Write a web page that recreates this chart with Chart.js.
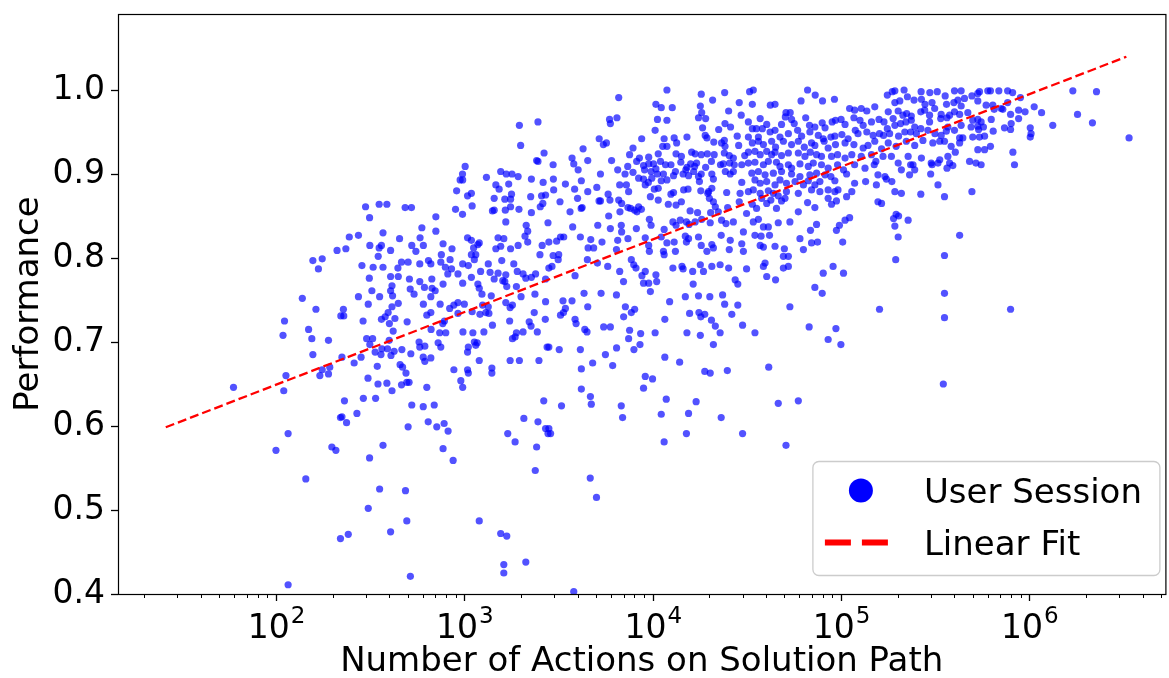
<!DOCTYPE html>
<html>
<head>
<meta charset="utf-8">
<title>Performance vs Number of Actions on Solution Path</title>
<script src="https://cdn.jsdelivr.net/npm/chart.js@4.4.0/dist/chart.umd.min.js"></script>
<style>
  html, body { margin: 0; padding: 0; background: #fff; }
  #wrap { width: 1169px; height: 678px; }
</style>
</head>
<body>
<div id="wrap"><canvas id="chart" width="1169" height="678"></canvas></div>
<script>
// user sessions: [number of actions on solution path, performance]
const sessionPoints = [
  // ~10^2 region
  [245,0.825],[211,0.809],[235,0.811],[157,0.797],[176,0.799],[168,0.787],[138,0.752],[163,0.739],[228,0.739],[221,0.731],
  [229,0.731],[111,0.725],[149,0.715],[109,0.708],[155,0.704],[190,0.702],[157,0.685],[224,0.682],[59.5,0.646],
  [113,0.660],[110,0.642],[171,0.660],[176,0.667],[190,0.662],[193,0.670],[231,0.630],[220,0.610],[224,0.611],[237,0.604],
  [116,0.591],[100,0.571],[198,0.575],[208,0.571],[144,0.537],[220,0.466],[242,0.471],[116,0.411],
  // 10^2 - 10^3, upper half
  [2460,0.962],[1960,0.958],[1990,0.934],[2650,0.925],[2420,0.916],[2460,0.915],[1010,0.909],[978,0.900],[950,0.893],[980,0.893],
  [1310,0.896],[1560,0.903],[1670,0.900],[1790,0.900],[1930,0.897],[2270,0.894],[2620,0.890],[1470,0.887],[1530,0.882],[1720,0.888],
  [910,0.880],[1040,0.874],[1090,0.877],[1780,0.876],[1640,0.870],[1760,0.870],[1440,0.871],[2250,0.873],[2570,0.874],[2700,0.875],
  [299,0.861],[353,0.864],[388,0.864],[485,0.860],[524,0.860],[314,0.848],[898,0.858],[978,0.852],[1100,0.862],[1410,0.856],
  [1440,0.857],[1650,0.857],[1760,0.861],[1950,0.858],[2270,0.854],[2530,0.861],[2610,0.865],[706,0.849],[1660,0.843],[2780,0.842],
  [2130,0.839],[2170,0.832],[595,0.836],[706,0.832],[370,0.830],[274,0.827],[453,0.823],[582,0.824],[1040,0.824],
  [1090,0.821],[1200,0.818],[1510,0.824],[1620,0.823],[2100,0.826],[2170,0.819],[315,0.815],[353,0.812],[363,0.815],[406,0.809],
  [526,0.815],[606,0.815],[553,0.808],[771,0.817],[860,0.811],[1120,0.812],[1180,0.816],[1470,0.811],[1560,0.814],[1760,0.811],
  [1930,0.815],[2520,0.804],[2590,0.815],[349,0.802],[286,0.791],[328,0.789],[370,0.789],[464,0.795],[503,0.795],[580,0.793],
  [645,0.797],[664,0.793],[755,0.804],[750,0.795],[840,0.798],[855,0.787],[793,0.789],[817,0.781],[980,0.793],[1050,0.791],
  [1090,0.804],[1130,0.798],[1150,0.804],[1340,0.793],[1580,0.797],[1830,0.793],[1910,0.784],[2050,0.781],[2120,0.776],[2270,0.777],
  [2390,0.781],[2700,0.775],[444,0.788],[313,0.776],[406,0.778],[446,0.778],[511,0.775],[672,0.775],[925,0.781],[1220,0.784],
  [1090,0.777],[1370,0.783],[1440,0.775],[1510,0.782],[1600,0.773],[1660,0.780],[323,0.761],[274,0.754],[355,0.754],[413,0.767],
  [406,0.761],[416,0.755],[516,0.763],[580,0.772],[614,0.765],[541,0.757],[674,0.764],[700,0.761],[664,0.754],[771,0.769],
  [980,0.770],[1180,0.769],[1200,0.764],[1240,0.757],[1390,0.755],[1640,0.772],[1680,0.766],[1890,0.766],[2000,0.754],[2370,0.757],
  [2700,0.748],[309,0.745],[446,0.746],[413,0.742],[394,0.735],[606,0.745],[744,0.745],[836,0.740],[880,0.744],[925,0.747],
  [1000,0.745],[1100,0.736],[1250,0.744],[1340,0.742],[1660,0.747],[1750,0.741],[1800,0.744],[2350,0.735],[290,0.725],[363,0.727],
  [380,0.730],[400,0.722],[428,0.728],[497,0.724],[632,0.732],[664,0.735],[768,0.722],[784,0.725],[925,0.734],[1210,0.733],
  [1300,0.735],[1350,0.734],[1740,0.725],[1410,0.720],[2210,0.724],[2260,0.719],[2690,0.727],[419,0.713],[666,0.715],[740,0.711],
  [797,0.711],[983,0.712],[1110,0.711],[1270,0.712],[1890,0.711],[2050,0.712],[2440,0.712],
  // 10^3 - 10^4, upper half
  [11900,1.000],[6600,0.991],[18100,0.995],[24100,0.997],[10400,0.983],[11100,0.979],[12700,0.979],[17900,0.981],[18200,0.973],[20800,0.988],
  [28800,0.985],[5900,0.965],[5960,0.960],[6460,0.967],[10600,0.965],[11900,0.964],[10300,0.952],[17500,0.967],[19100,0.966],[25300,0.975],
  [29500,0.970],[22400,0.953],[24200,0.960],[25900,0.956],[18400,0.955],[28100,0.945],[5200,0.942],[5470,0.935],[5680,0.937],[4270,0.930],
  [8740,0.942],[11500,0.942],[13000,0.943],[13400,0.937],[11300,0.933],[11900,0.933],[15200,0.944],[19000,0.946],[19400,0.943],[21100,0.938],
  [23200,0.937],[24000,0.940],[24200,0.933],[28600,0.934],[7860,0.931],[7540,0.923],[8500,0.919],[9520,0.920],[9520,0.912],[10700,0.924],
  [11000,0.915],[13300,0.924],[14200,0.921],[16100,0.926],[16800,0.924],[18100,0.923],[19500,0.924],[21200,0.923],[24000,0.925],[25500,0.922],
  [26800,0.919],[30800,0.922],[3730,0.919],[3810,0.912],[2960,0.911],[4520,0.916],[6050,0.916],[7370,0.909],[8220,0.915],[8940,0.910],
  [9050,0.905],[10100,0.912],[10400,0.906],[11700,0.911],[12500,0.911],[14100,0.914],[15200,0.908],[15900,0.912],[16700,0.909],[17100,0.913],
  [19100,0.908],[20500,0.915],[22900,0.911],[23700,0.912],[25600,0.913],[27100,0.911],[29700,0.911],[4020,0.905],[5280,0.900],[6520,0.905],
  [7130,0.900],[7860,0.902],[8420,0.895],[9800,0.903],[9890,0.895],[10600,0.900],[11400,0.900],[11100,0.892],[13200,0.903],[12900,0.898],
  [14500,0.900],[15000,0.905],[15500,0.898],[16500,0.903],[17500,0.897],[18100,0.900],[20600,0.900],[21000,0.894],[24300,0.903],[25800,0.900],
  [26800,0.903],[29700,0.890],[2970,0.894],[3440,0.888],[3850,0.882],[4180,0.892],[4520,0.879],[5050,0.884],[6680,0.887],[7250,0.887],
  [8940,0.894],[9480,0.890],[9130,0.887],[10200,0.882],[10700,0.883],[11900,0.893],[7450,0.879],[12900,0.878],[14600,0.881],[15400,0.882],
  [17700,0.891],[18000,0.880],[19800,0.879],[20600,0.883],[24700,0.878],[29100,0.877],[2980,0.881],[3220,0.867],
  [3990,0.871],[4220,0.860],[5190,0.868],[5280,0.868],[5800,0.876],[5930,0.869],[6600,0.869],[6700,0.855],[6840,0.865],[7390,0.860],
  [7630,0.859],[8020,0.857],[8250,0.855],[8420,0.861],[8710,0.858],[9720,0.873],[10700,0.869],[12100,0.864],[12500,0.876],[13300,0.863],
  [14200,0.867],[15800,0.856],[19600,0.877],[20000,0.871],[21000,0.867],[21500,0.861],[22300,0.855],[25000,0.860],[28800,0.867],
  [3640,0.855],[4170,0.859],[3760,0.837],[5110,0.839],[5840,0.850],[5960,0.835],[6810,0.839],[6840,0.831],[8190,0.835],[9600,0.846],
  [9800,0.839],[11500,0.834],[12800,0.843],[13300,0.839],[14000,0.845],[15100,0.843],[15600,0.840],[16800,0.843],[17300,0.854],[18200,0.846],
  [20300,0.854],[20200,0.842],[23200,0.845],[24500,0.841],[26800,0.843],[31500,0.853],[30300,0.831],[3090,0.820],[3240,0.825],[3370,0.825],
  [2810,0.819],[4130,0.825],[4690,0.822],[4540,0.812],[4860,0.812],[5380,0.819],[6420,0.810],[6520,0.821],[7390,0.823],[9130,0.824],
  [9520,0.815],[9600,0.808],[11100,0.825],[11400,0.808],[11500,0.804],[11900,0.818],[13000,0.819],[13200,0.808],[14900,0.826],[15100,0.819],
  [15500,0.823],[17500,0.825],[18100,0.815],[19400,0.808],[20600,0.816],[21000,0.812],[23100,0.827],[25800,0.821],[25500,0.810],[29700,0.817],
  [30300,0.808],[2960,0.803],[3170,0.804],[3150,0.798],[2810,0.788],[2920,0.790],[3870,0.779],[4500,0.798],[5090,0.794],[5770,0.790],
  [6680,0.784],[7700,0.798],[7930,0.792],[8150,0.788],[8770,0.779],[9130,0.784],[10400,0.780],[12800,0.788],[14300,0.790],[14500,0.787],
  [16300,0.784],[17900,0.792],[18600,0.784],[20600,0.790],[22800,0.792],[25300,0.788],[27400,0.774],[31500,0.787],[7000,0.772],[8940,0.770],
  [9520,0.770],[10500,0.772],[16400,0.769],[28300,0.769],[4320,0.758],[5320,0.758],[6420,0.756],[9720,0.760],[3340,0.749],[3730,0.749],
  [3440,0.740],[4520,0.742],[7160,0.742],[7700,0.735],[8020,0.739],[12300,0.748],[14900,0.754],[17500,0.755],[20100,0.754],[23500,0.756],
  [24100,0.745],[28300,0.744],[3240,0.732],[3360,0.735],[3870,0.727],[3920,0.722],[4360,0.715],[4480,0.712],[5490,0.718],[5960,0.718],
  [7010,0.730],[11600,0.727],[15700,0.734],[17600,0.735],[18000,0.730],[18900,0.733],[20500,0.726],[21500,0.719],[26300,0.733],[30000,0.720],
  [7540,0.714],[8630,0.710],[10300,0.711],[15200,0.711],[22800,0.711],
  // 10^4 - 10^5
  [34200,1.000],[32700,0.998],[33800,0.983],[66400,1.000],[72900,0.994],[79700,0.987],[92200,0.989],[61300,0.987],[42100,0.982],[44600,0.983],
  [51000,0.973],[53700,0.973],[37200,0.966],[176000,0.994],[187000,0.998],[193000,0.999],[216000,1.000],[225000,0.992],[244000,0.988],[266000,0.998],
  [296000,0.997],[324000,0.998],[267000,0.989],[279000,0.983],[304000,0.985],[357000,0.993],[363000,0.983],[193000,0.985],[205000,0.987],[111000,0.978],
  [118000,0.976],[128000,0.978],[137000,0.975],[151000,0.980],[178000,0.974],[201000,0.975],[213000,0.970],[223000,0.972],[236000,0.969],[265000,0.974],
  [278000,0.976],[295000,0.970],[314000,0.978],[340000,0.971],[365000,0.967],[32200,0.962],[40300,0.959],[38200,0.954],[33800,0.954],[35500,0.954],
  [48300,0.959],[50600,0.968],[54600,0.965],[56400,0.960],[58800,0.952],[64900,0.967],[68000,0.958],[72600,0.956],[79400,0.961],[82200,0.955],
  [89700,0.962],[93400,0.964],[100000,0.965],[105000,0.959],[117000,0.967],[126000,0.964],[131000,0.958],[145000,0.962],[159000,0.965],[169000,0.962],
  [176000,0.954],[189000,0.966],[193000,0.958],[207000,0.960],[221000,0.962],[236000,0.964],[246000,0.956],[265000,0.954],[295000,0.962],[338000,0.966],
  [32200,0.944],[36400,0.944],[42000,0.950],[44600,0.952],[47400,0.944],[52500,0.948],[61700,0.945],[68300,0.950],[75700,0.946],[80400,0.942],
  [88300,0.944],[92700,0.945],[101000,0.947],[109000,0.942],[119000,0.952],[123000,0.948],[137000,0.950],[148000,0.946],[160000,0.948],[168000,0.946],
  [181000,0.948],[202000,0.945],[218000,0.950],[234000,0.950],[251000,0.948],[289000,0.952],[315000,0.948],[340000,0.946],[362000,0.951],[33800,0.937],
  [36400,0.939],[38700,0.935],[42800,0.939],[44900,0.932],[49400,0.939],[54600,0.935],[59300,0.939],[63800,0.932],[69700,0.937],[72600,0.934],
  [81300,0.939],[85400,0.931],[93400,0.935],[105000,0.937],[117000,0.935],[131000,0.931],[139000,0.934],[151000,0.939],[164000,0.930],[178000,0.937],
  [196000,0.933],[222000,0.939],[246000,0.934],[272000,0.940],[307000,0.937],[334000,0.939],[354000,0.939],[32200,0.926],[34900,0.927],[37200,0.923],
  [40300,0.927],[42800,0.923],[44600,0.926],[48300,0.922],[52500,0.925],[59300,0.925],[64300,0.921],[68600,0.926],[74100,0.923],[78700,0.921],
  [89000,0.921],[95800,0.923],[105000,0.919],[114000,0.923],[128000,0.921],[145000,0.923],[153000,0.915],[167000,0.921],[185000,0.921],[201000,0.913],
  [227000,0.921],[241000,0.911],[267000,0.919],[301000,0.913],[334000,0.917],[32200,0.913],[34900,0.914],[38700,0.911],[41100,0.915],[45400,0.914],
  [47400,0.909],[52500,0.911],[54600,0.907],[60500,0.912],[67000,0.909],[71200,0.913],[78700,0.911],[85400,0.907],[95800,0.911],[103000,0.905],
  [118000,0.911],[134000,0.907],[150000,0.911],[209000,0.905],[234000,0.911],[246000,0.905],[299000,0.900],[304000,0.911],[327000,0.913],[365000,0.907],
  [33600,0.901],[36400,0.903],[39500,0.899],[43700,0.901],[48300,0.903],[54600,0.900],[60500,0.897],[68300,0.899],[74100,0.901],[82200,0.899],
  [88300,0.897],[107000,0.900],[157000,0.899],[171000,0.897],[231000,0.899],[34900,0.893],[37200,0.889],[40300,0.891],[44600,0.887],[47400,0.893],
  [51300,0.889],[57000,0.891],[63100,0.887],[67000,0.892],[72600,0.887],[77200,0.891],[92700,0.892],[118000,0.889],[135000,0.891],[174000,0.894],
  [186000,0.891],[327000,0.887],[32200,0.879],[34200,0.881],[37200,0.877],[41100,0.880],[43700,0.877],[46400,0.874],[51300,0.879],[59300,0.877],
  [69700,0.881],[77200,0.879],[85400,0.881],[92700,0.879],[96300,0.881],[114000,0.879],[154000,0.887],[193000,0.879],[209000,0.877],[265000,0.876],
  [354000,0.873],[37900,0.871],[40300,0.865],[42400,0.869],[48300,0.868],[50400,0.871],[33800,0.864],[35600,0.859],[59300,0.855],[66400,0.866],
  [72600,0.860],[85400,0.871],[89000,0.864],[94500,0.868],[107000,0.873],[157000,0.867],[164000,0.865],[45400,0.859],[34200,0.843],[36400,0.846],
  [38700,0.837],[41100,0.837],[46400,0.842],[53500,0.843],[68800,0.833],[74100,0.840],[94500,0.833],[98000,0.839],[105000,0.845],[111000,0.848],
  [190000,0.847],[196000,0.852],[193000,0.838],[202000,0.850],[227000,0.845],[34900,0.827],[37600,0.826],[41700,0.827],[60500,0.823],
  [69700,0.818],[75000,0.819],[102000,0.819],[201000,0.825],[37200,0.815],[38700,0.813],[44600,0.814],[50000,0.811],[63100,0.810],[49400,0.802],
  [52500,0.802],[39500,0.794],[38700,0.790],[49400,0.788],[52500,0.790],[90700,0.790],[195000,0.798],[354000,0.803],[40300,0.778],[44900,0.774],
  [80400,0.782],[103000,0.782],[72600,0.765],[79400,0.758],[354000,0.758],[53500,0.742],[160000,0.739],[354000,0.729],[67700,0.718],[93900,0.716],
  [34900,0.711],
  // beyond 10^5.5
  [400000,0.999],[434000,0.999],[397000,0.985],[417000,0.988],[434000,0.981],[452000,0.990],[495000,0.993],[532000,0.996],
  [543000,0.998],[601000,0.999],[621000,0.999],[688000,0.999],[766000,0.999],[814000,0.997],[532000,0.987],[589000,0.982],[639000,0.982],[650000,0.977],
  [708000,0.978],[766000,0.985],[896000,0.991],[377000,0.970],[400000,0.974],[426000,0.971],[471000,0.973],[500000,0.964],[532000,0.965],[554000,0.962],
  [627000,0.965],[722000,0.977],[794000,0.971],[876000,0.976],[948000,0.974],[1060000,0.980],[1160000,0.973],[1700000,0.999],[2270000,0.998],[1800000,0.971],
  [2160000,0.961],[1330000,0.958],[3380000,0.943],[369000,0.956],[400000,0.952],[434000,0.958],[490000,0.956],[532000,0.957],[537000,0.953],[570000,0.956],
  [642000,0.951],[737000,0.955],[794000,0.953],[800000,0.960],[876000,0.966],[1010000,0.955],[1020000,0.948],[1010000,0.944],[384000,0.933],
  [404000,0.926],[426000,0.943],[443000,0.943],[426000,0.937],[500000,0.944],[543000,0.944],[578000,0.945],[532000,0.929],[578000,0.929],[621000,0.933],
  [817000,0.926],[369000,0.921],[377000,0.913],[392000,0.910],[481000,0.915],[520000,0.913],[554000,0.911],[833000,0.911],[495000,0.879],
  [426000,0.827],[794000,0.739],
  // 10^2 - 10^3, lower half
  [303,0.704],[326,0.704],[315,0.697],[336,0.688],[361,0.685],[365,0.692],[391,0.692],[424,0.689],[399,0.702],[466,0.691],
  [408,0.684],[283,0.682],[260,0.675],[345,0.671],[308,0.657],[348,0.650],[388,0.651],[413,0.642],[456,0.673],[470,0.670],
  [490,0.663],[464,0.649],[495,0.652],[509,0.652],[520,0.686],[575,0.700],[580,0.694],[617,0.695],[605,0.682],[617,0.677],
  [664,0.681],[726,0.699],[750,0.694],[880,0.667],[958,0.654],[980,0.646],[1040,0.667],[1050,0.663],[1050,0.694],[1040,0.688],
  [1130,0.700],[1170,0.699],[1150,0.696],[1200,0.678],[1400,0.669],[1400,0.663],[1750,0.678],[1960,0.678],[1800,0.704],[1860,0.706],
  [2490,0.678],[2750,0.694],[632,0.646],[291,0.633],[338,0.633],[269,0.615],[526,0.625],[605,0.623],[692,0.625],
  [503,0.599],[643,0.605],[714,0.599],[781,0.603],[820,0.594],[771,0.573],[872,0.559],[370,0.577],[314,0.562],[2070,0.609],
  [2460,0.605],[2640,0.630],[2700,0.597],[2780,0.591],[1700,0.591],[1860,0.581],[2420,0.575],[2380,0.547],[355,0.525],[487,0.523],
  [309,0.502],[495,0.487],[406,0.474],[1200,0.487],[1560,0.472],[1680,0.469],[1620,0.435],[1620,0.425],[2120,0.438],
  [517,0.421],
  // 10^3 - 10^4, lower half
  [2810,0.694],[3190,0.691],[4130,0.691],[4180,0.668],[4800,0.675],[5610,0.685],[6130,0.672],[6430,0.693],[7450,0.704],
  [7950,0.691],[8560,0.697],[4180,0.644],[4670,0.635],[4720,0.626],[3280,0.624],[2810,0.597],[2870,0.591],[6810,0.624],
  [6920,0.610],[9130,0.659],[9980,0.656],[8940,0.645],[11600,0.682],[13900,0.676],[11800,0.632],[11100,0.614],[11500,0.581],[15100,0.591],
  [15500,0.615],[17000,0.629],[17900,0.708],[21000,0.697],[18900,0.665],[20200,0.663],[24900,0.666],[23100,0.610],
  [30000,0.591],[4660,0.538],[5030,0.515],[3810,0.403],
  // 10^4 - 10^6, lower half
  [85400,0.703],[99800,0.697],[41300,0.670],[46400,0.627],[59300,0.630],[51000,0.577],[349000,0.650]
];

// linear fit end points (performance against log10 of actions)
const fitActions = [26, 3.27e6];
const fitPerformance = [0.5985, 1.0396];

const yTickValues = [0.4, 0.5, 0.6, 0.7, 0.8, 0.9, 1.0];
const xTickPowers = [2, 3, 4, 5, 6];
const xTickLabels = ['10^2', '10^3', '10^4', '10^5', '10^6'];

const legendLabels = ['User Session', 'Linear Fit'];

const FONT = '"DejaVu Sans", "Liberation Sans", sans-serif';
const BLUE = 'rgba(0, 0, 255, 0.68)';
const RED = '#ff0000';

// frame, tick marks, power-of-ten labels and the legend box
const axesPlugin = {
    id: 'axesDecor',
    afterDraw(chart) {
        const ctx = chart.ctx;
        const area = chart.chartArea;
        const xs = chart.scales.x;
        const ys = chart.scales.y;
        ctx.save();

        // tick marks
        ctx.strokeStyle = '#000';
        xs.ticks.forEach(t => {
            const px = Math.round(xs.getPixelForValue(t.value)) + 0.5;
            ctx.lineWidth = t.major ? 1.3 : 1;
            ctx.beginPath();
            ctx.moveTo(px, area.bottom);
            ctx.lineTo(px, area.bottom + (t.major ? 7 : 4));
            ctx.stroke();
        });
        ys.ticks.forEach(t => {
            const py = Math.round(ys.getPixelForValue(t.value)) + 0.5;
            ctx.lineWidth = 1.3;
            ctx.beginPath();
            ctx.moveTo(area.left - 7, py);
            ctx.lineTo(area.left, py);
            ctx.stroke();
        });

        // frame
        ctx.lineWidth = 1.2;
        ctx.strokeRect(area.left + 0.5, area.top + 0.5, area.right - area.left, area.bottom - area.top);

        // x labels as 10 with superscript
        ctx.fillStyle = '#000';
        ctx.textBaseline = 'alphabetic';
        ctx.textAlign = 'left';
        xTickLabels.forEach((label, i) => {
            const parts = label.split('^');
            const px = xs.getPixelForValue(Math.pow(10, xTickPowers[i]));
            ctx.font = '33px ' + FONT;
            const wBase = ctx.measureText(parts[0]).width;
            ctx.font = '23px ' + FONT;
            const wExp = ctx.measureText(parts[1]).width;
            const x0 = px - (wBase + wExp) / 2;
            ctx.font = '33px ' + FONT;
            ctx.fillText(parts[0], x0, area.bottom + 44);
            ctx.font = '23px ' + FONT;
            ctx.fillText(parts[1], x0 + wBase + 1, area.bottom + 29);
        });

        // legend
        const boxW = 347, boxH = 114;
        const bx = area.right - 6 - boxW + 0.5;
        const by = area.bottom - 19 - boxH + 0.5;
        ctx.beginPath();
        ctx.roundRect(bx, by, boxW, boxH, 6);
        ctx.fillStyle = 'rgba(255, 255, 255, 0.8)';
        ctx.fill();
        ctx.strokeStyle = '#cccccc';
        ctx.lineWidth = 1.3;
        ctx.stroke();

        ctx.beginPath();
        ctx.arc(bx + 48, by + 29, 12, 0, Math.PI * 2);
        ctx.fillStyle = '#0000ff';
        ctx.fill();

        ctx.beginPath();
        ctx.setLineDash([26, 11]);
        ctx.moveTo(bx + 12, by + 81);
        ctx.lineTo(bx + 75, by + 81);
        ctx.strokeStyle = RED;
        ctx.lineWidth = 6;
        ctx.stroke();
        ctx.setLineDash([]);

        ctx.fillStyle = '#000';
        ctx.font = '34px ' + FONT;
        ctx.fillText(legendLabels[0], bx + 111, by + 41);
        ctx.fillText(legendLabels[1], bx + 111, by + 93);

        ctx.restore();
    }
};

const ctx = document.getElementById('chart');

new Chart(ctx, {
    type: 'scatter',
    data: {
        datasets: [{
            type: 'line',
            label: legendLabels[1],
            data: fitActions.map((v, i) => ({ x: v, y: fitPerformance[i] })),
            borderColor: RED,
            borderWidth: 2.3,
            borderDash: [9, 4],
            pointRadius: 0,
            fill: false,
            order: 1
        }, {
            label: legendLabels[0],
            data: sessionPoints.map(p => ({ x: p[0], y: p[1] })),
            pointRadius: 3.6,
            pointHoverRadius: 3.6,
            pointBackgroundColor: BLUE,
            pointBorderWidth: 0,
            order: 2
        }]
    },
    options: {
        responsive: false,
        devicePixelRatio: 1,
        animation: false,
        events: [],
        layout: {
            padding: { top: 14, right: 1, left: 0, bottom: 0 }
        },
        plugins: {
            legend: { display: false },
            tooltip: { enabled: false }
        },
        scales: {
            x: {
                type: 'logarithmic',
                min: 14.5,
                max: 5.27e6,
                grid: { display: false, drawTicks: false },
                border: { display: false },
                ticks: { display: false },
                title: {
                    display: true,
                    text: 'Number of Actions on Solution Path',
                    color: '#000',
                    font: { family: FONT, size: 34, lineHeight: 1 },
                    padding: { top: 0, bottom: -1 }
                },
                afterBuildTicks: function(scale) {
                    const ticks = [];
                    for (let p = 1; p <= 6; p++) {
                        for (let m = 1; m <= 9; m++) {
                            const v = m * Math.pow(10, p);
                            if (v >= scale.min && v <= scale.max) {
                                ticks.push({ value: v, major: m === 1 });
                            }
                        }
                    }
                    scale.ticks = ticks;
                },
                afterFit: function(scale) {
                    scale.height = 84;
                    scale.paddingLeft = 0;
                    scale.paddingRight = 0;
                }
            },
            y: {
                min: 0.4,
                max: 1.0905,
                grid: { display: false, drawTicks: false },
                border: { display: false },
                ticks: {
                    color: '#000',
                    padding: 13,
                    font: { family: FONT, size: 33 },
                    callback: function(value) {
                        return value.toFixed(1);
                    }
                },
                title: {
                    display: true,
                    text: 'Performance',
                    color: '#000',
                    font: { family: FONT, size: 34, lineHeight: 1 },
                    padding: { top: 12, bottom: 0 }
                },
                afterBuildTicks: function(scale) {
                    scale.ticks = yTickValues.map(v => ({ value: v }));
                },
                afterFit: function(scale) {
                    scale.width = 118;
                    scale.paddingTop = 0;
                    scale.paddingBottom = 0;
                }
            }
        }
    },
    plugins: [axesPlugin]
});
</script>
</body>
</html>
